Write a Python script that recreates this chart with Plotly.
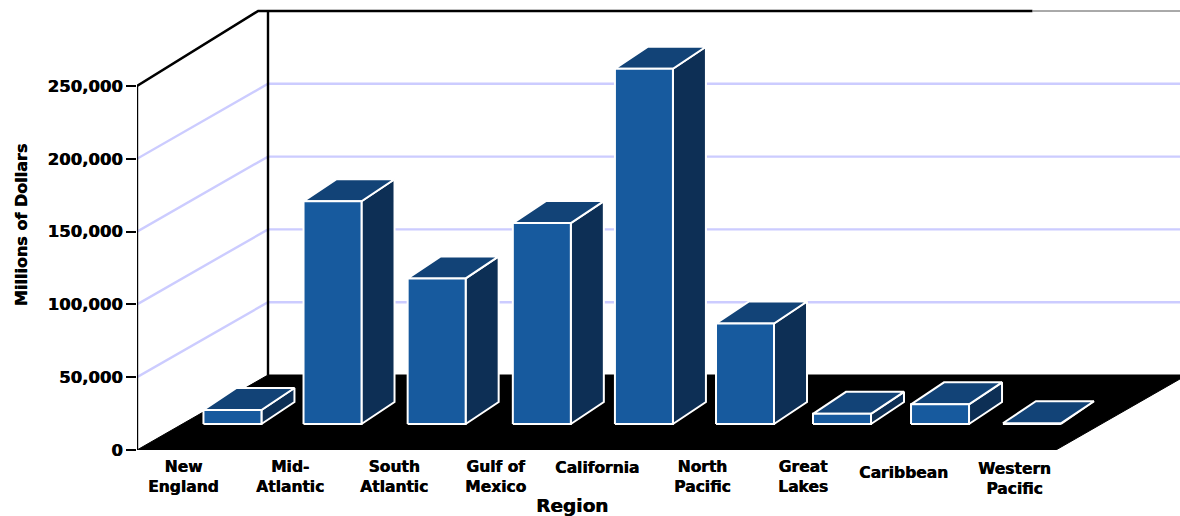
import plotly.graph_objects as go

categories = ["New<br>England", "Mid-<br>Atlantic", "South<br>Atlantic", "Gulf of<br>Mexico", "California",
              "North<br>Pacific", "Great<br>Lakes", "Caribbean", "Western<br>Pacific"]
values = [9600, 153000, 100000, 138000, 244000, 69000, 7000, 13500, 500]
y_ticks = [0, 50000, 100000, 150000, 200000, 250000]

# chart geometry (oblique projection, expressed in axis units)
PX_X = 102.1                 # pixels per category
PX_Y = 364 / 250000          # pixels per dollar unit
FLOOR_DX = 131 / PX_X
FLOOR_DY = 75 / PX_Y
BAR_W = 58 / PX_X
BAR_DX = 33 / PX_X
BAR_DY = 22 / PX_Y
BAR_BASE = 26 / PX_Y
BAR_SHIFT = 0.445
bar_nudge = [-0.01, -0.03, -0.01, 0.02, 0.02, 0.01, -0.04, -0.08, -0.18]
label_dx = [-5, 0, 2, 1, 1, 4, 2, 1, 10]
label_dy = [0, 0, 0, 0, -9, 0, 0, -4, 2]
XMAX = (1180 - 137) / PX_X
YMAX = 450 / PX_Y

FONT = "DejaVu Sans"
HEAVY = "0.5px 0 0 black"
FRONT, TOP, SIDE = "#175A9E", "#124377", "#0D2F55"
GRID = "#CCCCFF"

fig = go.Figure()


def poly(xs, ys, fill, line="white", w=2):
    fig.add_trace(go.Scatter(x=xs, y=ys, mode="lines", fill="toself", fillcolor=fill,
                             line=dict(color=line, width=w), hoverinfo="skip",
                             showlegend=False, cliponaxis=False))


def line(xs, ys, color="black", w=2):
    fig.add_trace(go.Scatter(x=xs, y=ys, mode="lines", line=dict(color=color, width=w),
                             hoverinfo="skip", showlegend=False, cliponaxis=False))


# gridlines on side and back walls
for v in y_ticks[1:-1]:
    line([0, FLOOR_DX, XMAX], [v, v + FLOOR_DY, v + FLOOR_DY], GRID, 2.4)

# top rim of the walls
line([0, FLOOR_DX * 0.925, 8.77], [250000, 250000 + FLOOR_DY, 250000 + FLOOR_DY], "black", 2.6)
line([8.77, XMAX], [250000 + FLOOR_DY] * 2, "#555555", 1)

# floor
poly([0, FLOOR_DX, 9 + FLOOR_DX, 9], [0, FLOOR_DY, FLOOR_DY, 0], "black", "black", 1)

# wall edges
line([FLOOR_DX, FLOOR_DX], [FLOOR_DY, 250000 + FLOOR_DY], "black", 2.4)
line([0, 0], [0, 250000], "black", 2.4)

# category ticks along the floor front edge
for i in range(len(categories) + 1):
    line([i, i], [0, -6 / PX_Y], "black", 2)

# bars
for i, v in enumerate(values):
    x0 = i + 0.5 - BAR_W / 2 + BAR_SHIFT + bar_nudge[i]
    x1 = x0 + BAR_W
    b, t = BAR_BASE, BAR_BASE + v
    poly([x1, x1 + BAR_DX, x1 + BAR_DX, x1, x1], [b, b + BAR_DY, t + BAR_DY, t, b], SIDE)
    poly([x0, x0 + BAR_DX, x1 + BAR_DX, x1, x0], [t, t + BAR_DY, t + BAR_DY, t, t], TOP)
    poly([x0, x1, x1, x0, x0], [b, b, t, t, b], FRONT)

annotations = [
    dict(x=i + 0.5, y=0, xref="x", yref="y", text=f"<b>{c}</b>", showarrow=False,
         xshift=label_dx[i], yshift=-27 - label_dy[i],
         yanchor="middle", align="center",
         font=dict(family=FONT, size=15.5, color="black", shadow=HEAVY))
    for i, c in enumerate(categories)
]
annotations.append(dict(x=(572 - 137) / PX_X, y=0, xref="x", yref="y", text="<b>Region</b>", showarrow=False,
                        yshift=-55, yanchor="middle",
                        font=dict(family=FONT, size=18.5, color="black", shadow=HEAVY)))

fig.update_layout(
    width=1180, height=516,
    margin=dict(l=137, r=0, t=0, b=66, autoexpand=False),
    paper_bgcolor="white", plot_bgcolor="white",
    showlegend=False,
    annotations=annotations,
    xaxis=dict(range=[0, XMAX], visible=False, fixedrange=True),
    yaxis=dict(range=[0, YMAX], tickmode="array", tickvals=y_ticks,
               ticktext=[f"<b>{v:,}</b>" for v in y_ticks], showgrid=False, zeroline=False,
               showline=False, ticks="outside", ticklen=10, tickwidth=2, tickcolor="black",
               tickfont=dict(family=FONT, size=16.5, color="black", shadow=HEAVY),
               title=dict(text="<b>Millions of Dollars</b>", standoff=15,
                          font=dict(family=FONT, size=16, color="black", shadow=HEAVY)),
               fixedrange=True),
)

fig.write_html("out.html", config={"displayModeBar": False},
               post_script="document.body.style.margin='0';document.documentElement.style.overflow='hidden';")
